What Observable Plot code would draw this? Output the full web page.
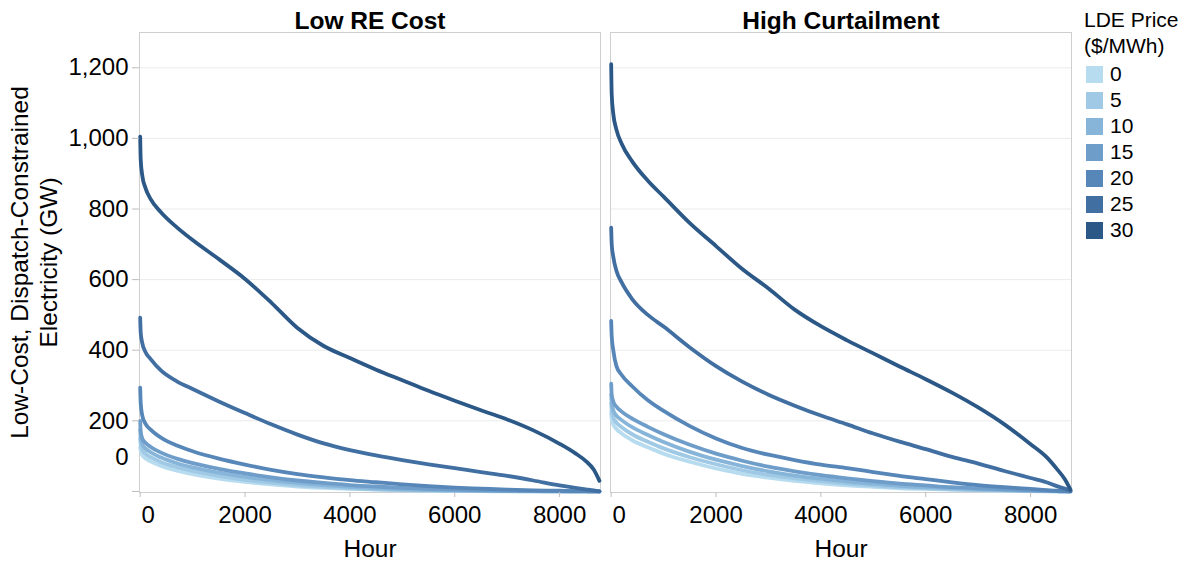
<!DOCTYPE html>
<html>
<head>
<meta charset="utf-8">
<script src="https://cdn.jsdelivr.net/npm/d3@7"></script>
<script src="https://cdn.jsdelivr.net/npm/@observablehq/plot@0.6"></script>
<style>
  body { margin: 0; background: #fff; font-family: "Liberation Sans", Arial, sans-serif; }
  #wrap { position: relative; width: 1190px; height: 565px; }
  #legend { position: absolute; left: 1084px; top: 7px; font-size: 21px; color: #000; line-height: 26px; }
  #legend .row { display: flex; align-items: center; height: 26px; }
  #legend .sw { width: 17px; height: 17px; margin-right: 7px; margin-left: 2px; }
</style>
</head>
<body>
<div id="wrap"><div id="chart"></div><div id="legend"></div></div>
<script>
// ---------- data ----------
const scenarios = ["Low RE Cost", "High Curtailment"];
const prices = [0, 5, 10, 15, 20, 25, 30];
const colors = ["#b7dbef", "#9fc9e5", "#87b4d9", "#6f9dca", "#5786b8", "#416fa2", "#2b5886"];
const hours = [0, 10, 40, 100, 200, 400, 700, 1000, 1500, 2000, 2500, 3000, 3500, 4000, 4500, 5000, 5500, 6000, 6500, 7000, 7500, 8000, 8300, 8500, 8650, 8760];
const yTicks = [0, 200, 400, 600, 800, 1000, 1200];
const xTicks = [0, 2000, 4000, 6000, 8000];

// Low RE Cost
const lowRE_p0  = [125, 114, 103, 94, 85, 72, 59, 49, 36, 27, 20, 14, 10, 7, 5, 3, 2, 1, 1, 0, 0, 0, 0, 0, 0, 0];
const lowRE_p5  = [150, 132, 118, 107, 97, 83, 69, 58, 44, 33, 25, 18, 13, 9, 6, 4, 3, 2, 1, 1, 0, 0, 0, 0, 0, 0];
const lowRE_p10 = [175, 150, 134, 122, 111, 96, 80, 68, 53, 41, 32, 24, 18, 13, 9, 6, 4, 3, 2, 1, 1, 0, 0, 0, 0, 0];
const lowRE_p15 = [200, 170, 150, 138, 126, 110, 93, 80, 64, 51, 40, 31, 24, 18, 14, 10, 7, 5, 3, 2, 1, 1, 0, 0, 0, 0];
const lowRE_p20 = [294, 250, 215, 192, 175, 152, 130, 114, 93, 76, 61, 49, 40, 32, 26, 20, 15, 11, 8, 5, 3, 2, 1, 1, 0, 0];
const lowRE_p25 = [492, 450, 420, 395, 375, 342, 312, 290, 255, 222, 190, 161, 136, 117, 102, 89, 77, 66, 55, 44, 31, 17, 10, 6, 3, 0];
const lowRE_p30 = [1005, 940, 895, 860, 828, 790, 748, 712, 658, 602, 535, 463, 412, 378, 345, 315, 285, 257, 230, 204, 173, 135, 108, 86, 62, 30];

// High Curtailment
const highCurt_p0  = [225, 206, 190, 177, 164, 145, 125, 107, 84, 65, 50, 39, 30, 23, 17, 13, 9, 7, 5, 3, 2, 1, 0, 0, 0, 0];
const highCurt_p5  = [250, 228, 210, 195, 182, 162, 141, 122, 97, 77, 60, 47, 37, 29, 22, 17, 12, 9, 6, 4, 3, 1, 1, 0, 0, 0];
const highCurt_p10 = [275, 250, 230, 215, 202, 182, 160, 140, 112, 90, 72, 57, 45, 36, 28, 22, 16, 12, 9, 6, 4, 2, 1, 1, 0, 0];
const highCurt_p15 = [305, 275, 255, 240, 226, 206, 183, 162, 132, 107, 87, 70, 57, 46, 37, 29, 22, 17, 12, 9, 6, 3, 2, 1, 0, 0];
const highCurt_p20 = [483, 440, 400, 355, 330, 298, 258, 228, 185, 150, 123, 104, 89, 76, 66, 55, 44, 35, 26, 18, 12, 7, 4, 2, 1, 0];
const highCurt_p25 = [747, 700, 665, 625, 592, 545, 500, 467, 408, 355, 311, 274, 243, 215, 190, 164, 141, 120, 98, 79, 58, 38, 26, 15, 8, 2];
const highCurt_p30 = [1210, 1125, 1070, 1025, 985, 935, 880, 835, 760, 695, 630, 575, 515, 468, 428, 391, 354, 318, 280, 238, 190, 134, 98, 64, 35, 5];

const lowRE = [lowRE_p0, lowRE_p5, lowRE_p10, lowRE_p15, lowRE_p20, lowRE_p25, lowRE_p30];
const highCurt = [highCurt_p0, highCurt_p5, highCurt_p10, highCurt_p15, highCurt_p20, highCurt_p25, highCurt_p30];

// ---------- table ----------
const table = [];
[lowRE, highCurt].forEach((group, gi) => {
  group.forEach((vals, pi) => {
    vals.forEach((v, hi) => table.push({scenario: scenarios[gi], price: prices[pi], hour: hours[hi], value: v}));
  });
});

const font = '"Liberation Sans", Arial, sans-serif';
const fmt = d3.format(",");

const chart = Plot.plot({
  width: 1190,
  height: 565,
  marginLeft: 139,
  marginRight: 118,
  marginTop: 32,
  marginBottom: 73,
  style: {fontFamily: font, fontSize: "24px", color: "#000", background: "#fff", overflow: "visible"},
  fx: {domain: scenarios, paddingInner: 0.0212, paddingOuter: 0, axis: null, label: null},
  x: {domain: [-13, 8780]},
  y: {domain: [-3, 1300]},
  color: {type: "ordinal", domain: prices, range: colors},
  marks: [
    Plot.gridY({ticks: yTicks.filter(d => d > 0), stroke: "#ebebeb", strokeOpacity: 1}),
    Plot.frame({stroke: "#cfcfcf"}),
    Plot.line(table, {x: "hour", y: "value", z: "price", stroke: "price", fx: "scenario", strokeWidth: 3.8, curve: "monotone-x"}),
    Plot.axisY({ticks: yTicks, tickFormat: d => d === 0 ? "" : fmt(d), tickSize: 7, tickPadding: 4, stroke: "#bdbdbd", fill: "#000", fontSize: 24, label: null, facetAnchor: "left"}),
    Plot.axisY({ticks: [0], tickFormat: d => String(d), tickSize: 0, tickPadding: 11, dy: -34, fill: "#000", fontSize: 24, label: null, facetAnchor: "left"}),
    Plot.axisX({ticks: xTicks, tickFormat: d => d === 0 ? "" : String(d), tickSize: 5, tickPadding: 8, stroke: "#bdbdbd", fill: "#000", fontSize: 24, label: null, facetAnchor: "bottom"}),
    Plot.axisX({ticks: [0], tickFormat: d => String(d), tickSize: 0, tickPadding: 13, dx: 8, fill: "#000", fontSize: 24, label: null, facetAnchor: "bottom"}),
    Plot.text(["Hour"], {text: d => d, frameAnchor: "bottom", dy: 64, fontSize: 24.5, fill: "#000"}),
    Plot.text(scenarios, {fx: d => d, text: d => d, frameAnchor: "top", dy: -4, lineAnchor: "bottom", fontWeight: "bold", fontSize: 24.5, fill: "#000"}),
    Plot.text([scenarios[0]], {fx: d => d, text: () => "Low-Cost, Dispatch-Constrained\nElectricity (GW)", frameAnchor: "left", textAnchor: "middle", dx: -106, rotate: -90, lineAnchor: "middle", lineHeight: 1.16, fontSize: 24.5, fill: "#000"})
  ]
});
document.getElementById("chart").append(chart);

// ---------- legend ----------
const legend = d3.select("#legend");
legend.append("div").text("LDE Price");
legend.append("div").text("($/MWh)");
const rows = legend.append("div").style("margin-top", "2px").selectAll("div.row").data(prices).join("div").attr("class", "row");
rows.append("div").attr("class", "sw").style("background", (d, i) => colors[i]);
rows.append("span").text(d => d);
</script>
</body>
</html>
